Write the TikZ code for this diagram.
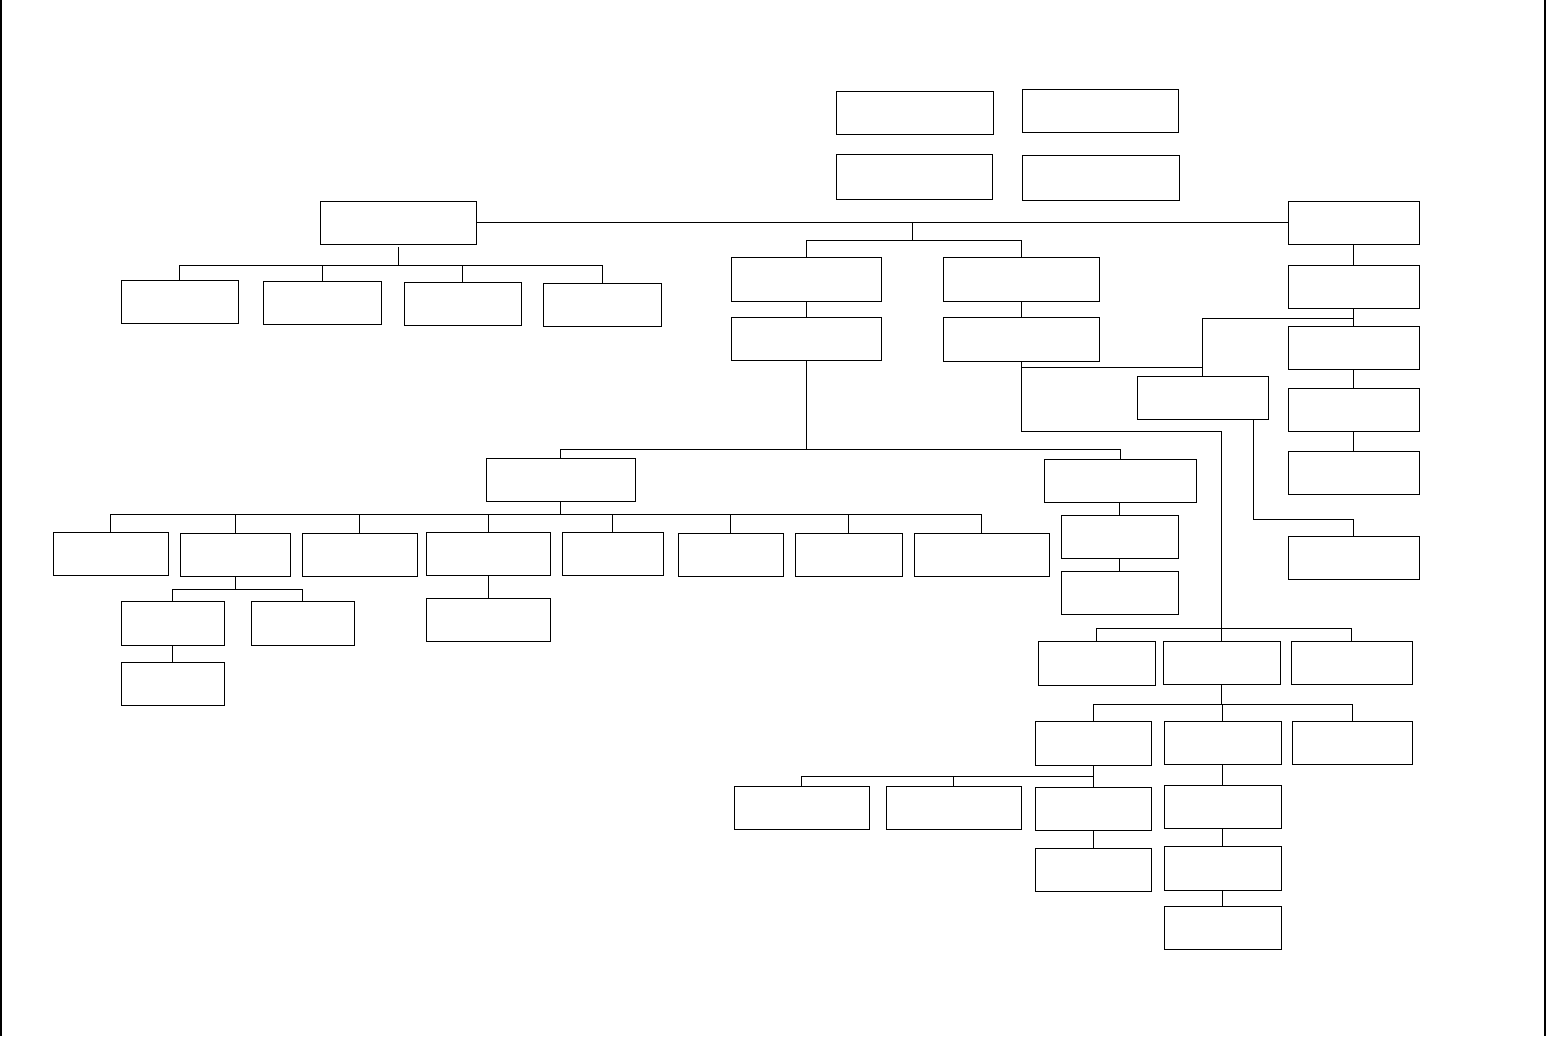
\documentclass[tikz,border=0pt]{standalone}
\usetikzlibrary{calc}
\tikzset{
  bx/.style={draw=black, line width=0.85pt, rectangle, inner sep=0pt, outer sep=0pt, fill=white},
  con/.style={draw=black, line width=0.75pt},
  frameline/.style={draw=black, line width=1.4pt}
}
\newcommand\mkbox[5]{%
  \pgfmathsetmacro\mybw{#4-#2}%
  \pgfmathsetmacro\mybh{#5-#3}%
  \pgfmathsetmacro\mybx{(#2+#4)/2}%
  \pgfmathsetmacro\myby{(#3+#5)/2}%
  \node[bx, minimum width=\mybw pt, minimum height=\mybh pt] (#1) at (\mybx,\myby) {};%
}
\begin{document}
\begin{tikzpicture}[x=1pt,y=-1pt]
\useasboundingbox (0,0) rectangle (1546,1036);
\fill[white] (0,0) rectangle (1546,1036);
\draw[frameline] (1,0) -- (1,1036);
\draw[frameline] (1545,0) -- (1545,1036);

% boxes
\mkbox{T1}{836}{91}{993}{134}
\mkbox{T2}{1022}{89}{1178}{132}
\mkbox{T3}{836}{154}{992}{199}
\mkbox{T4}{1022}{155}{1179}{200}
\mkbox{A}{320}{201}{476}{244}
\mkbox{A1}{121}{280}{238}{323}
\mkbox{A2}{263}{281}{381}{324}
\mkbox{A3}{404}{282}{521}{325}
\mkbox{A4}{543}{283}{661}{326}
\mkbox{B}{731}{257}{881}{301}
\mkbox{B2}{731}{317}{881}{360}
\mkbox{C}{943}{257}{1099}{301}
\mkbox{C2}{943}{317}{1099}{361}
\mkbox{R}{1288}{201}{1419}{244}
\mkbox{R2}{1288}{265}{1419}{308}
\mkbox{R3}{1288}{326}{1419}{369}
\mkbox{R4}{1288}{388}{1419}{431}
\mkbox{R5}{1288}{451}{1419}{494}
\mkbox{R6}{1288}{536}{1419}{579}
\mkbox{M}{1137}{376}{1268}{419}
\mkbox{H}{486}{458}{635}{501}
\mkbox{K}{1044}{459}{1196}{502}
\mkbox{K1}{1061}{515}{1178}{558}
\mkbox{K2}{1061}{571}{1178}{614}
\mkbox{H1}{53}{532}{168}{575}
\mkbox{H2}{180}{533}{290}{576}
\mkbox{H3}{302}{533}{417}{576}
\mkbox{H4}{426}{532}{550}{575}
\mkbox{H5}{562}{532}{663}{575}
\mkbox{H6}{678}{533}{783}{576}
\mkbox{H7}{795}{533}{902}{576}
\mkbox{H8}{914}{533}{1049}{576}
\mkbox{I1}{121}{601}{224}{645}
\mkbox{I2}{251}{601}{354}{645}
\mkbox{I3}{121}{662}{224}{705}
\mkbox{H4a}{426}{598}{550}{641}
\mkbox{D1}{1038}{641}{1155}{685}
\mkbox{D2}{1163}{641}{1280}{684}
\mkbox{D3}{1291}{641}{1412}{684}
\mkbox{E1}{1035}{721}{1151}{765}
\mkbox{E2}{1164}{721}{1281}{764}
\mkbox{E3}{1292}{721}{1412}{764}
\mkbox{F1}{734}{786}{869}{829}
\mkbox{F2}{886}{786}{1021}{829}
\mkbox{F3}{1035}{787}{1151}{830}
\mkbox{F4}{1035}{848}{1151}{891}
\mkbox{G1}{1164}{785}{1281}{828}
\mkbox{G2}{1164}{846}{1281}{890}
\mkbox{G3}{1164}{906}{1281}{949}

% A group
\draw[con] (A.east) -- (R.west);
\draw[con] ([yshift=-3pt]A.south) -- (A.south |- 0,265);
\draw[con] (A1.north) |- (A4.north |- 0,265) -- (A4.north);
\draw[con] (A2.north) -- (A2.north |- 0,265);
\draw[con] (A3.north) -- (A3.north |- 0,265);
% B / C
\coordinate (j1) at (912,223);
\draw[con] (j1) -- (912,240);
\draw[con] (B.north) |- (C.north |- 0,240) -- (C.north);
\draw[con] (B.south) -- (B2.north);
\draw[con] (C.south) -- (C2.north);
% R column
\draw[con] (R.south) -- (R2.north);
\draw[con] (R2.south) -- (R3.north);
\draw[con] (R3.south) -- (R4.north);
\draw[con] (R4.south) -- (R5.north);
\draw[con] (R2.south |- 0,318) -| (M.north);
\draw[con] (C2.south |- 0,367) -- (M.north |- 0,367);
\draw[con] ([xshift=50.5pt]M.south) |- (R6.north |- 0,519) -- (R6.north);
% C2 down to D group
\draw[con] (C2.south) |- (D2.north |- 0,431) -- (D2.north);
\draw[con] (D1.north) |- (D3.north |- 0,628) -- (D3.north);
% D2 to E group
\draw[con] (D2.south) -- (D2.south |- 0,704);
\draw[con] (E1.north) |- (E3.north |- 0,704) -- (E3.north);
\draw[con] (E2.north) -- (E2.north |- 0,704);
% E1 to F group
\draw[con] (E1.south) -- (F3.north);
\draw[con] (F1.north) |- (F3.north |- 0,776);
\draw[con] (F2.north) -- (F2.north |- 0,776);
\draw[con] (F3.south) -- (F4.north);
% E2 column
\draw[con] (E2.south) -- (G1.north);
\draw[con] (G1.south) -- (G2.north);
\draw[con] (G2.south) -- (G3.north);
% B2 to H / K
\draw[con] (B2.south) -- (B2.south |- 0,449);
\draw[con] (H.north) |- (K.north |- 0,449) -- (K.north);
\draw[con] (K.south -| K1.north) -- (K1.north);
\draw[con] (K1.south) -- (K2.north);
% H group
\draw[con] (H.south) -- (H.south |- 0,514);
\draw[con] (H1.north) |- (H8.north |- 0,514) -- (H8.north);
\foreach \n in {H2,H3,H4,H5,H6,H7} {\draw[con] (\n.north) -- (\n.north |- 0,514);}
\draw[con] (H2.south) -- (H2.south |- 0,589);
\draw[con] (I1.north) |- (I2.north |- 0,589) -- (I2.north);
\draw[con] (I1.south) -- (I3.north);
\draw[con] (H4.south) -- (H4a.north);
\end{tikzpicture}
\end{document}
